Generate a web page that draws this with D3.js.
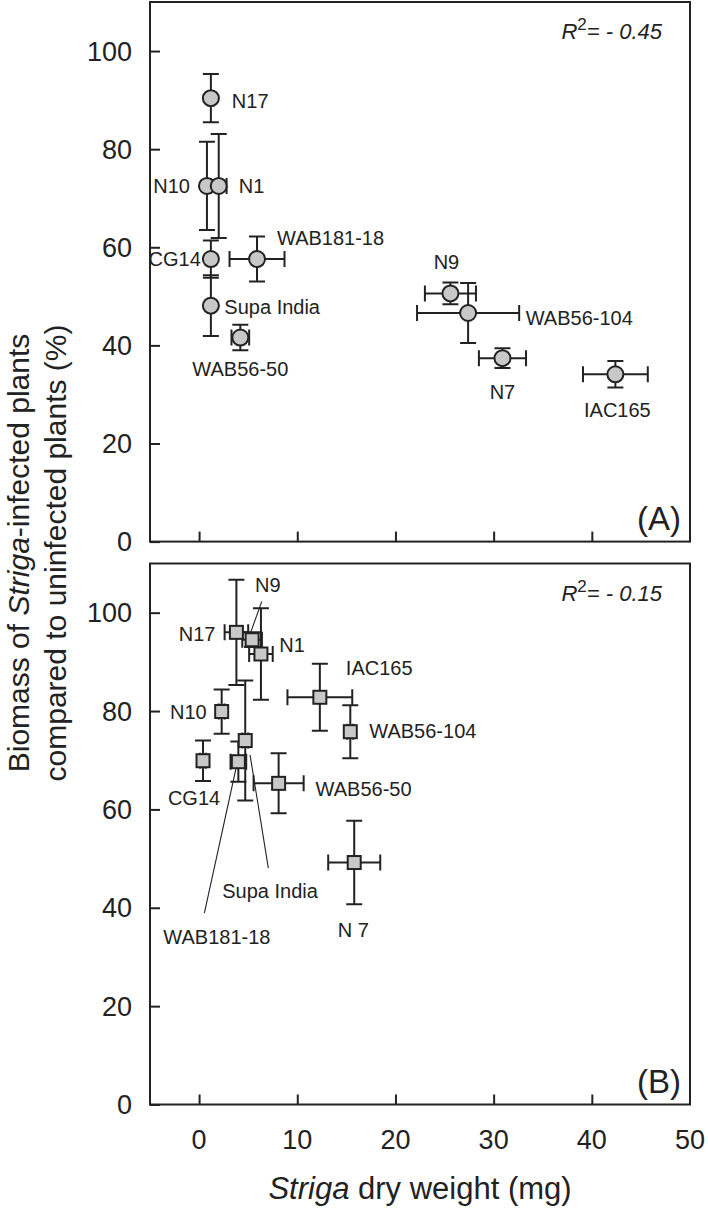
<!DOCTYPE html>
<html><head><meta charset="utf-8">
<script src="https://cdn.jsdelivr.net/npm/d3@7"></script>
<style>body{margin:0;background:#fff}svg{display:block}text{font-family:"Liberation Sans",Arial,sans-serif;fill:#222}</style>
</head><body><svg id="c" width="708" height="1214"></svg>
<script>
// ---------- data ----------
const namesA = ["N17","N10","N1","CG14","WAB181-18","Supa India","WAB56-50","N9","WAB56-104","N7","IAC165"];
const xA     = [1.2, 0.8, 2.0, 1.2, 5.9, 1.2, 4.2, 25.6, 27.4, 30.9, 42.4];
const yA     = [90.4, 72.5, 72.5, 57.6, 57.6, 48.1, 41.6, 50.6, 46.6, 37.4, 34.1];
const xErrA  = [0.3, 0.3, 0.8, 0.3, 2.8, 0.3, 0.9, 2.6, 5.2, 2.4, 3.3];
const yErrA  = [4.9, 9.0, 10.6, 3.8, 4.6, 6.2, 2.6, 2.2, 6.1, 2.0, 2.7];

const namesB = ["N17","N9","N1","N10","IAC165","WAB56-104","Supa India","WAB181-18","CG14","WAB56-50","N 7"];
const xB     = [3.8, 5.4, 6.3, 2.3, 12.3, 15.4, 4.7, 4.0, 0.4, 8.1, 15.8];
const yB     = [96.0, 94.5, 91.6, 79.9, 82.8, 75.8, 74.0, 69.7, 69.9, 65.3, 49.2];
const xErrB  = [1.2, 1.0, 1.2, 0.3, 3.3, 0.3, 0.3, 0.8, 0.3, 2.55, 2.65];
const yErrB  = [10.7, 1.5, 9.3, 4.5, 6.8, 5.4, 12.2, 4.1, 4.1, 6.1, 8.5];

const xTicks = [0, 10, 20, 30, 40, 50];
const yTicks = [0, 20, 40, 60, 80, 100];
const xDomain = [-5, 50];
const yDomain = [0, 110];
const r2Labels = ["- 0.45", "- 0.15"];
const panelTags = ["(A)", "(B)"];

// ---------- layout (pixel offsets for labels, relative to markers) ----------
const labA = [[21,3,"start"],[-17,0,"end"],[20,0,"start"],[-10,0,"end"],[20,-21,"start"],[13.5,1.5,"start"],[0,31,"middle"],[-4,-31,"middle"],[57.6,4.5,"start"],[0,34,"middle"],[2,36,"middle"]];
const labB = [[-21,1.5,"end"],[3,-55,"start"],[18.4,-9,"start"],[-15,0,"end"],[26,-29.5,"start"],[19,-1,"start"],[-23,150,"start"],[-75,175,"start"],[-9,37.6,"middle"],[37,6,"start"],[-1,67,"middle"]];
const leadB = {1:[9.7,-38.3,-4.7,1.7], 6:[4.8,14.3,23.1,127.6], 7:[-2.3,6.5,-34,151.5]};

const svg = d3.select("#c");
const ink = "#222";
const L = 150, R = 690;
const x = d3.scaleLinear().domain(xDomain).range([L, R]);

function panel(top, bottom, names, xs, ys, xe, ye, labs, leads, shape, r2, tag, showX) {
  const y = d3.scaleLinear().domain(yDomain).range([bottom, top]);
  const g = svg.append("g");
  const ya = g.append("g").attr("transform", `translate(${L},0)`)
    .call(d3.axisRight(y).tickValues(yTicks).tickSize(10).tickFormat(""));
  ya.select(".domain").remove();
  ya.selectAll("line").attr("stroke", ink).attr("stroke-width", 2);
  g.selectAll(".yl").data(yTicks).join("text")
    .attr("x", 132).attr("y", d => y(d) + 9.5).attr("text-anchor", "end")
    .style("font-size", "27px").text(d => d);
  const xa = g.append("g").attr("transform", `translate(0,${bottom})`)
    .call(d3.axisTop(x).tickValues(xTicks.filter(t => t < xDomain[1])).tickSize(10).tickFormat(""));
  xa.select(".domain").remove();
  xa.selectAll("line").attr("stroke", ink).attr("stroke-width", 2);
  if (showX) {
    g.selectAll(".xl").data(xTicks).join("text")
      .attr("x", d => x(d)).attr("y", bottom + 44).attr("text-anchor", "middle")
      .style("font-size", "27px").text(d => d);
  }
  g.append("rect").attr("x", L).attr("y", top).attr("width", R - L).attr("height", bottom - top)
    .attr("fill", "none").attr("stroke", ink).attr("stroke-width", 2);
  const idx = d3.range(names.length);
  Object.keys(leads).forEach(k => {
    const i = +k, l = leads[k];
    g.append("line").attr("x1", x(xs[i]) + l[0]).attr("y1", y(ys[i]) + l[1])
      .attr("x2", x(xs[i]) + l[2]).attr("y2", y(ys[i]) + l[3])
      .attr("stroke", ink).attr("stroke-width", 1.1);
  });
  const cap = 8;
  const eb = g.append("g").attr("stroke", ink).attr("stroke-width", 2).attr("fill", "none");
  idx.forEach(i => {
    const cx = x(xs[i]), cy = y(ys[i]);
    const y0 = y(ys[i] - ye[i]), y1 = y(ys[i] + ye[i]);
    const x0 = x(xs[i] - xe[i]), x1 = x(xs[i] + xe[i]);
    eb.append("path").attr("d",
      `M${cx},${y0}V${y1}M${cx-cap},${y0}H${cx+cap}M${cx-cap},${y1}H${cx+cap}` +
      `M${x0},${cy}H${x1}M${x0},${cy-cap}V${cy+cap}M${x1},${cy-cap}V${cy+cap}`);
  });
  if (shape === "circle") {
    g.selectAll(".m").data(idx).join("circle")
      .attr("cx", i => x(xs[i])).attr("cy", i => y(ys[i])).attr("r", 8)
      .attr("fill", "#c8c8c8").attr("stroke", ink).attr("stroke-width", 2);
  } else {
    g.selectAll(".m").data(idx).join("rect")
      .attr("x", i => x(xs[i]) - 6.5).attr("y", i => y(ys[i]) - 6.5).attr("width", 13).attr("height", 13)
      .attr("fill", "#c8c8c8").attr("stroke", ink).attr("stroke-width", 2);
  }
  g.selectAll(".pl").data(idx).join("text")
    .attr("x", i => x(xs[i]) + labs[i][0]).attr("y", i => y(ys[i]) + labs[i][1] + 7)
    .attr("text-anchor", i => labs[i][2]).style("font-size", "20px").text(i => names[i]);
  const t = g.append("text").attr("x", 662).attr("y", top + 37).attr("text-anchor", "end")
    .style("font-size", "22px").style("font-style", "italic");
  t.append("tspan").text("R");
  t.append("tspan").attr("dy", -9).style("font-size", "17px").style("font-style", "normal").text("2");
  t.append("tspan").attr("dy", 9).text("= " + r2);
  g.append("text").attr("x", 681).attr("y", bottom - 12).attr("text-anchor", "end")
    .style("font-size", "33px").text(tag);
}

panel(2, 541.6, namesA, xA, yA, xErrA, yErrA, labA, {}, "circle", r2Labels[0], panelTags[0], false);
panel(563.5, 1104.5, namesB, xB, yB, xErrB, yErrB, labB, leadB, "square", r2Labels[1], panelTags[1], true);

// y title
const yt = svg.append("text").attr("transform", "translate(29,553) rotate(-90)")
  .attr("text-anchor", "middle").style("font-size", "30px");
yt.append("tspan").text("Biomass of ");
yt.append("tspan").style("font-style", "italic").text("Striga");
yt.append("tspan").text("-infected plants");
svg.append("text").attr("transform", "translate(66,553) rotate(-90)")
  .attr("text-anchor", "middle").style("font-size", "30px").text("compared to uninfected plants (%)");

// x title
const xt = svg.append("text").attr("x", 420).attr("y", 1199).attr("text-anchor", "middle").style("font-size", "31px");
xt.append("tspan").style("font-style", "italic").text("Striga");
xt.append("tspan").text(" dry weight (mg)");
</script>
</body></html>
